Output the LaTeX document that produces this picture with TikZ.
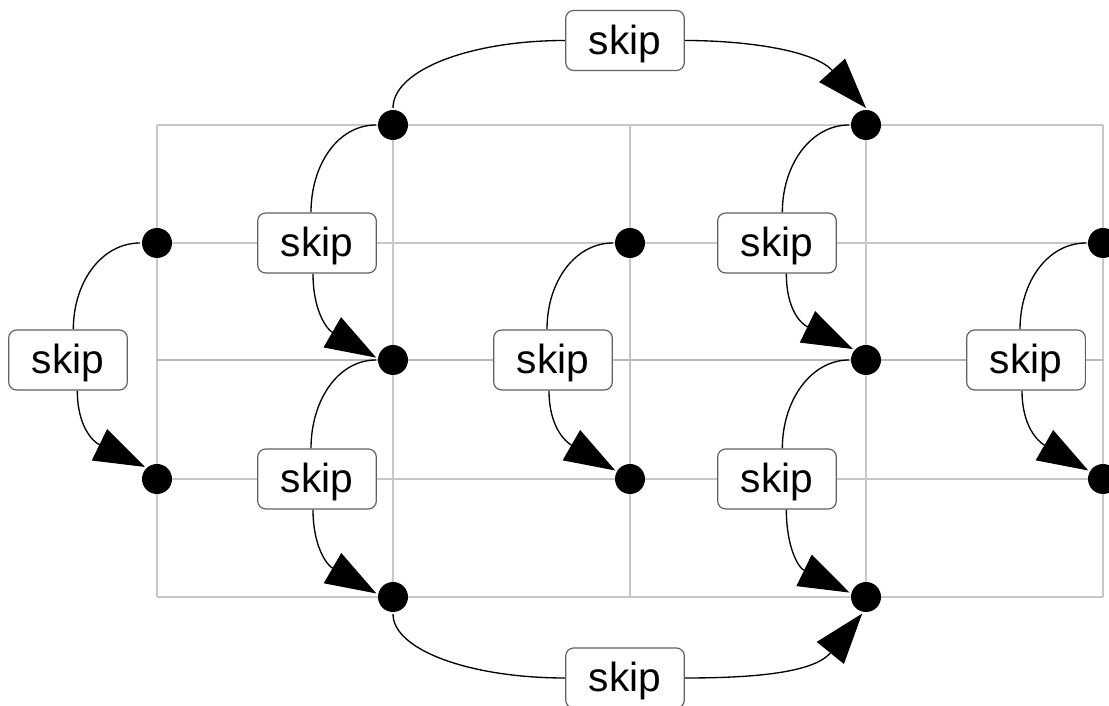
\documentclass[tikz,border=0pt]{standalone}
\usepackage{fontspec}
\setmainfont{Liberation Sans}
\usetikzlibrary{arrows.meta}
\pgfdeclarelayer{gridlayer}
\pgfdeclarelayer{edgelayer}
\pgfsetlayers{gridlayer,edgelayer,main}
\begin{document}
\begin{tikzpicture}[x=0.75pt,y=0.75pt,
  dot/.style={circle,fill=black,minimum size=22.5pt,inner sep=0pt,outer sep=1.5pt},
  skipbox/.style={draw=black!62,line width=0.9pt,rounded corners=6pt,fill=white,
    minimum width=89pt,minimum height=45pt,inner sep=0pt,
    text height=24pt,text depth=3pt,
    font=\fontsize{30.5}{36}\selectfont},
  gridline/.style={draw=black!22,line width=1.5pt},
  edge/.style={draw=black,line width=1pt},
  arr/.style={edge,-{Triangle[length=38pt,width=26pt]}}
]
\useasboundingbox (0,0) rectangle (1109,706);

% grid
\begin{pgfonlayer}{gridlayer}
\foreach \x in {157,393,630,866,1103} \draw[gridline] (\x,109) -- (\x,581);
\foreach \y in {581,463,227,109} \draw[gridline] (157,\y) -- (1103,\y);
\draw[gridline,draw=black!28,line width=2.2pt] (157,346) -- (1103,346);
\end{pgfonlayer}

% dots
\node[dot] (a1) at (393,581) {};
\node[dot] (a3) at (866,581) {};
\node[dot] (b0) at (157,463) {};
\node[dot] (b2) at (630,463) {};
\node[dot] (b4) at (1103,463) {};
\node[dot] (c1) at (393,346) {};
\node[dot] (c3) at (866,346) {};
\node[dot] (d0) at (157,227) {};
\node[dot] (d2) at (630,227) {};
\node[dot] (d4) at (1103,227) {};
\node[dot] (e1) at (393,109) {};
\node[dot] (e3) at (866,109) {};

% skip boxes
\node[skipbox] (sT) at (625,665.5) {skip};
\node[skipbox] (sL) at (68,346) {skip};
\node[skipbox] (s1u) at (317,463) {skip};
\node[skipbox] (s1d) at (317,227) {skip};
\node[skipbox] (s2) at (553,346) {skip};
\node[skipbox] (s3u) at (777,463) {skip};
\node[skipbox] (s3d) at (777,227) {skip};
\node[skipbox] (s4) at (1026,346) {skip};
\node[skipbox] (sB) at (625,28) {skip};

\begin{pgfonlayer}{edgelayer}
% left pair
\draw[edge] (b0.west) .. controls +(-38,0) and +(0,48) .. ([xshift=4pt]sL.north);
\draw[arr] ([xshift=7pt]sL.south) .. controls +(0,-36) and +(154:58) .. (d0.135);
% column 1
\draw[edge] (a1.west) .. controls +(-38,0) and +(0,48) .. ([xshift=-4.5pt]s1u.north);
\draw[arr] ([xshift=-3pt]s1u.south) .. controls +(0,-36) and +(150:58) .. (c1.172);
\draw[edge] (c1.west) .. controls +(-38,0) and +(0,48) .. ([xshift=-4.5pt]s1d.north);
\draw[arr] ([xshift=-3pt]s1d.south) .. controls +(0,-36) and +(150:58) .. (e1.168);
% column 2
\draw[edge] (b2.west) .. controls +(-38,0) and +(0,48) .. ([xshift=-4.5pt]s2.north);
\draw[arr] ([xshift=-3pt]s2.south) .. controls +(0,-36) and +(150:58) .. (d2.150);
% column 3
\draw[edge] (a3.west) .. controls +(-38,0) and +(0,48) .. ([xshift=4pt]s3u.north);
\draw[arr] ([xshift=7pt]s3u.south) .. controls +(0,-36) and +(154:58) .. (c3.140);
\draw[edge] (c3.west) .. controls +(-38,0) and +(0,48) .. ([xshift=4pt]s3d.north);
\draw[arr] ([xshift=7pt]s3d.south) .. controls +(0,-36) and +(154:58) .. (e3.165);
% column 4
\draw[edge] (b4.west) .. controls +(-38,0) and +(0,48) .. ([xshift=-4.5pt]s4.north);
\draw[arr] ([xshift=-3pt]s4.south) .. controls +(0,-36) and +(150:58) .. (d4.150);
% top
\draw[edge] (a1.north) .. controls +(0,38) and +(-95,0) .. (sT.west);
\draw[arr] (sT.east) .. controls +(60,0) and +(132:78) .. (a3.90);
% bottom
\draw[edge] (e1.south) .. controls +(0,-36) and +(-95,0) .. (sB.west);
\draw[arr] (sB.east) .. controls +(60,0) and +(231:78) .. (e3.257);
\end{pgfonlayer}
\end{tikzpicture}
\end{document}
